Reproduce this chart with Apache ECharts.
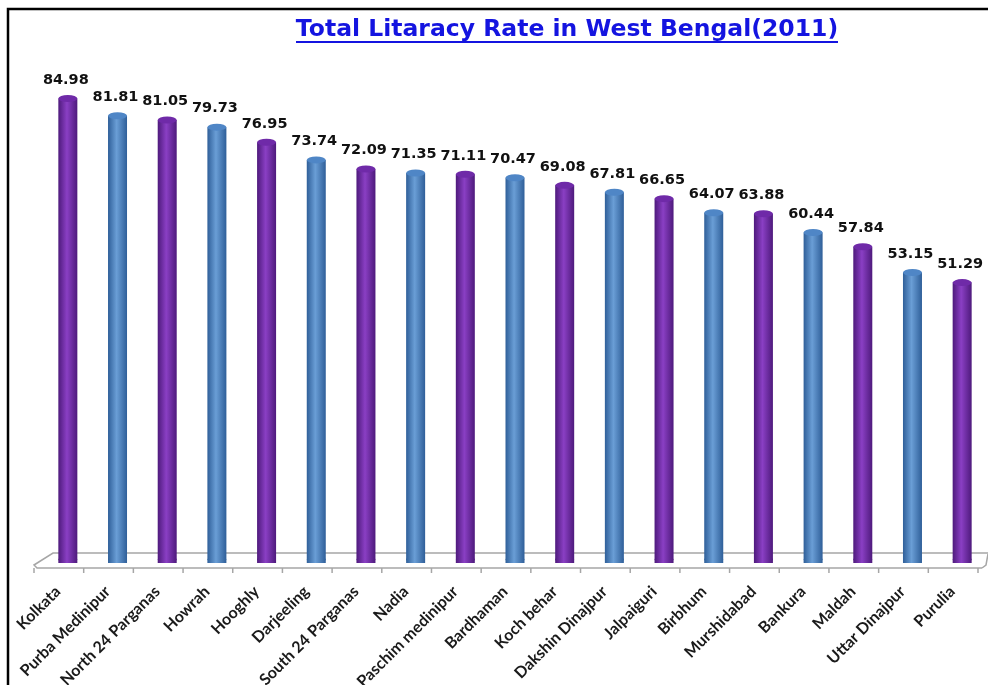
<!DOCTYPE html>
<html><head><meta charset="utf-8">
<script src="https://cdn.jsdelivr.net/npm/echarts@6/dist/echarts.min.js"></script>
<style>html,body{margin:0;padding:0;background:#fff}#c{width:988px;height:685px}</style>
</head><body><div id="c"></div>
<script>
const categories = ["Kolkata","Purba Medinipur","North 24 Parganas","Howrah","Hooghly","Darjeeling","South 24 Parganas","Nadia","Paschim medinipur","Bardhaman","Koch behar","Dakshin Dinajpur","Jalpaiguri","Birbhum","Murshidabad","Bankura","Maldah","Uttar Dinajpur","Purulia"];
const literacy = [84.98,81.81,81.05,79.73,76.95,73.74,72.09,71.35,71.11,70.47,69.08,67.81,66.65,64.07,63.88,60.44,57.84,53.15,51.29];
const titleText = "Total Litaracy Rate in West Bengal(2011)";

const purpleGrad = new echarts.graphic.LinearGradient(0,0,1,0,[{offset:0,color:'#4e1a7c'},{offset:0.45,color:'#8a3fc4'},{offset:1,color:'#4e1a7c'}]);
const blueGrad = new echarts.graphic.LinearGradient(0,0,1,0,[{offset:0,color:'#2f5f99'},{offset:0.45,color:'#6a9ed6'},{offset:1,color:'#2f5f99'}]);
const isPurple = i => i % 2 === 0;

const chart = echarts.init(document.getElementById('c'));
const option = {
  animation:false,
  backgroundColor:'#fff',
  grid:{left:43,right:1,top:71,bottom:122,containLabel:false,outerBoundsMode:'none'},
  xAxis:{type:'category',data:categories,
    axisLine:{show:false},
    axisTick:{show:false},
    axisLabel:{rotate:45,interval:0,color:'#1a1a1a',fontWeight:'bold',fontSize:16,fontFamily:'Lato',margin:16,padding:[0,14,0,0]}},
  yAxis:{type:'value',min:0,max:90,show:false,splitLine:{show:false}},
  series:[
    {type:'bar',barWidth:19,z:2,
      data:literacy.map((v,i)=>({value:v,itemStyle:{color:isPurple(i)?purpleGrad:blueGrad}})),
      label:{show:true,position:'top',distance:11,offset:[-2,0],color:'#111',fontWeight:'bold',fontSize:14.5,fontFamily:'DejaVu Sans'}},
    {type:'pictorialBar',symbol:'circle',symbolSize:[19,7],symbolPosition:'end',symbolOffset:[0,'-50%'],z:3,barGap:'-100%',
      data:literacy.map((v,i)=>({value:v,itemStyle:{color:isPurple(i)?'#6f2aa8':'#4f86c6'}}))},
    {type:'pictorialBar',symbol:'circle',symbolSize:[19,7],symbolPosition:'start',symbolOffset:[0,'0%'],z:1,barGap:'-100%',
      data:literacy.map((v,i)=>({value:v,itemStyle:{color:isPurple(i)?'#4e1a7c':'#2f5f99'}}))}
  ],
  graphic:[]
};
chart.setOption(option);

// floor decoration computed from scales
const p0 = chart.convertToPixel({xAxisIndex:0,yAxisIndex:0},[0,0]);
const pN = chart.convertToPixel({xAxisIndex:0,yAxisIndex:0},[categories.length-1,0]);
const step = (pN[0]-p0[0])/(categories.length-1);
const half = step/2;
const y0 = p0[1];
const depth = 9;
const xl = p0[0]-half-depth, xr = pN[0]+half-depth;
const fy = y0+5, by = y0-10;
const g = [
  {type:'polyline',silent:true,shape:{points:[[8,685],[8,9],[988,9]]},style:{stroke:'#000',lineWidth:2.5,fill:'none'}},
  {type:'polyline',z:0,shape:{points:[[xr+4,fy],[xl+3,fy],[xl,fy-3],[xl+19,by],[988,by]]},style:{stroke:'#a6a6a6',lineWidth:1.5,fill:'none'}},
  {type:'polyline',z:0,shape:{points:[[xr+4,fy],[xr+8,fy-3],[988,by+1]]},style:{stroke:'#a6a6a6',lineWidth:1.5,fill:'none'}},
  {type:'text',style:{text:titleText,x:567,y:30,textAlign:'center',textVerticalAlign:'middle',fill:'#1414e0',font:'bold 23.5px "DejaVu Sans"'}},
  {type:'line',shape:{x1:296,y1:42,x2:838,y2:42},style:{stroke:'#1414e0',lineWidth:2}}
];
for (let i=0;i<=categories.length;i++){
  const x = xl + i*step;
  g.push({type:'line',z:0,shape:{x1:x,y1:fy,x2:x,y2:fy+5},style:{stroke:'#a6a6a6',lineWidth:1.5}});
}
chart.setOption({graphic:g});
</script></body></html>
